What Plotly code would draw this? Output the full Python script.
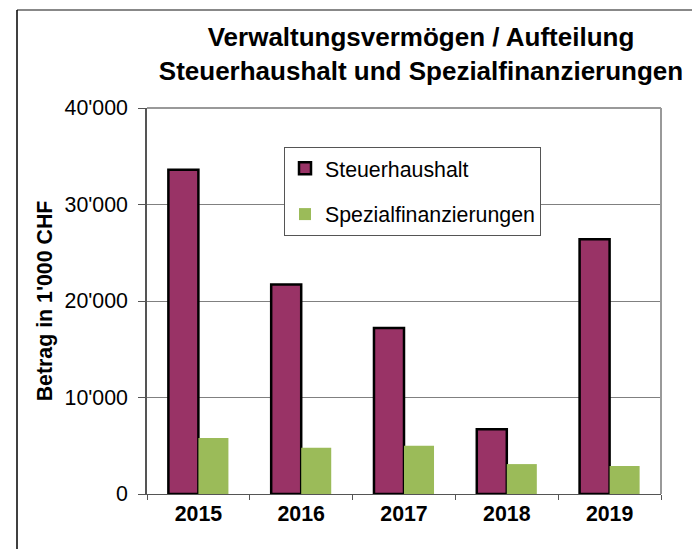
import plotly.graph_objects as go

years = ["2015", "2016", "2017", "2018", "2019"]
steuerhaushalt = [33600, 21700, 17200, 6700, 26400]
spezialfinanzierungen = [5800, 4800, 5000, 3100, 2900]
y_tickvals = [0, 10000, 20000, 30000, 40000]
y_ticktext = ["0", "10'000", "20'000", "30'000", "40'000"]

FONT = "Liberation Sans, Arial, sans-serif"
FS = 21.33

fig = go.Figure()
fig.add_trace(go.Bar(
    x=years, y=steuerhaushalt, name="Steuerhaushalt", legendgroup="a",
    marker=dict(color="#993366", line=dict(color="#000000", width=2.5)),
))
fig.add_trace(go.Bar(
    x=years, y=spezialfinanzierungen, name="Spezialfinanzierungen", legendgroup="b",
    marker=dict(color="#9BBB59", line=dict(width=0)),
))

L, R, T, B = 147, 31, 108, 55
W, H = 692, 549
pw, ph = W - L - R, H - T - B

def px(x):
    return (x - L) / pw

def py(y):
    return (H - B - y) / ph

fig.update_layout(
    width=W, height=H,
    margin=dict(l=L, r=R, t=T, b=B, autoexpand=False),
    paper_bgcolor="white", plot_bgcolor="white",
    barmode="group", bargap=0.416, bargroupgap=0,
    font=dict(family=FONT, size=FS, color="#000000"),
    title=dict(
        text="Verwaltungsvermögen / Aufteilung<br>Steuerhaushalt und Spezialfinanzierungen",
        font=dict(family=FONT, size=26, color="#000000", weight="bold"),
        x=px(421), xanchor="center", xref="paper",
        y=1 - 46 / H, yanchor="top", yref="container",
    ),
    showlegend=True,
    legend=dict(
        x=px(284), y=py(147), xanchor="left", yanchor="top",
        bgcolor="white", bordercolor="#555555", borderwidth=1,
        font=dict(family=FONT, size=FS, color="#000000"),
        traceorder="grouped", tracegroupgap=15, itemwidth=30,
    ),
    xaxis=dict(
        showline=True, linecolor="#555555", linewidth=1,
        ticks="outside", tickson="boundaries", ticklen=5, tickcolor="#555555",
        tickfont=dict(family=FONT, size=FS, color="#000000", weight="bold"),
        showgrid=False, mirror=False,
    ),
    yaxis=dict(
        range=[0, 40000], tickvals=y_tickvals, ticktext=y_ticktext,
        showline=True, linecolor="#555555", linewidth=1.5,
        ticks="outside", ticklen=7, tickcolor="#555555",
        tickfont=dict(family=FONT, size=FS, color="#000000"),
        ticklabelstandoff=6,
        showgrid=True, gridcolor="#808080", gridwidth=1,
        zeroline=False,
        title=dict(text="Betrag in 1'000 CHF",
                   font=dict(family=FONT, size=FS, color="#000000", weight="bold"),
                   standoff=6),
    ),
)

# plot area border (top/right gray)
fig.add_shape(type="line", xref="paper", yref="paper", x0=0, x1=1, y0=1, y1=1,
              line=dict(color="#999999", width=2))
fig.add_shape(type="line", xref="paper", yref="paper", x0=1, x1=1, y0=0, y1=1,
              line=dict(color="#999999", width=2))
# outer chart frame
fig.add_shape(type="line", xref="paper", yref="paper",
              x0=px(17), x1=px(700), y0=py(10), y1=py(10),
              line=dict(color="#888888", width=2))
fig.add_shape(type="line", xref="paper", yref="paper",
              x0=px(17), x1=px(17), y0=py(10), y1=py(560),
              line=dict(color="#000000", width=1.5))

fig.write_html("out.html", config={"displayModeBar": False},
               post_script="document.body.style.margin='0';")
